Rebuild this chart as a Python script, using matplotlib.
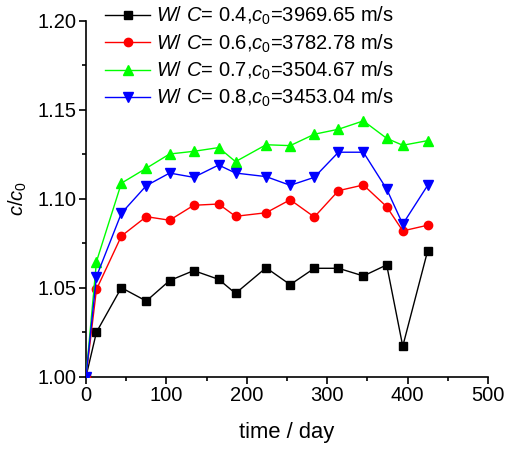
import matplotlib
matplotlib.use("Agg")
import matplotlib.pyplot as plt
from matplotlib.ticker import MultipleLocator

plt.rcParams['font.family'] = ['Liberation Sans', 'DejaVu Sans']
plt.rcParams['mathtext.fontset'] = 'custom'
plt.rcParams['mathtext.rm'] = 'Liberation Sans'
plt.rcParams['mathtext.it'] = 'Liberation Sans:italic'
plt.rcParams['mathtext.bf'] = 'Liberation Sans:bold'

days = [0, 13, 44, 75, 104, 134, 165, 186, 224, 254, 284, 314, 345, 374, 394, 425]

wc04 = [1.000, 1.025, 1.050, 1.0425, 1.054, 1.0596, 1.0547, 1.0468, 1.0612, 1.0517,
        1.0609, 1.0609, 1.0566, 1.0628, 1.0171, 1.0708]
wc06 = [1.000, 1.049, 1.079, 1.0899, 1.0879, 1.0963, 1.097, 1.0901, 1.0921, 1.0994,
        1.0897, 1.1045, 1.1077, 1.0955, 1.0819, 1.0851]
wc07 = [1.000, 1.0646, 1.1087, 1.1171, 1.1251, 1.1266, 1.1287, 1.1208, 1.1303, 1.1298,
        1.1362, 1.139, 1.1437, 1.1339, 1.130, 1.1326]
wc08 = [1.000, 1.0562, 1.0918, 1.1073, 1.1144, 1.112, 1.1189, 1.1144, 1.1124, 1.1075,
        1.112, 1.1261, 1.1261, 1.1054, 1.0857, 1.1075]

labels = [r"$\it{W}$/ $\it{C}$= 0.4,$\it{c}_0$=3969.65 m/s",
          r"$\it{W}$/ $\it{C}$= 0.6,$\it{c}_0$=3782.78 m/s",
          r"$\it{W}$/ $\it{C}$= 0.7,$\it{c}_0$=3504.67 m/s",
          r"$\it{W}$/ $\it{C}$= 0.8,$\it{c}_0$=3453.04 m/s"]

fig = plt.figure(figsize=(5.07, 4.49), dpi=100)
ax = fig.add_axes([0.1696, 0.161, 0.7929, 0.793])

styles = [('black', 's', 5.5), ('red', 'o', 6), ('#00ff00', '^', 6.5), ('blue', 'v', 6.5)]
for ys, (col, mk, ms), lab in zip([wc04, wc06, wc07, wc08], styles, labels):
    ax.plot(days, ys, color=col, marker=mk, markersize=ms, linewidth=1.0,
            label=lab, zorder=3)

ax.set_xlim(0, 500)
ax.set_ylim(1.00, 1.20)
ax.xaxis.set_major_locator(MultipleLocator(100))
ax.xaxis.set_minor_locator(MultipleLocator(50))
ax.yaxis.set_major_locator(MultipleLocator(0.05))
ax.yaxis.set_minor_locator(MultipleLocator(0.025))
ax.yaxis.set_major_formatter(plt.FormatStrFormatter('%.2f'))

for side in ('top', 'right'):
    ax.spines[side].set_visible(False)
for side in ('left', 'bottom'):
    ax.spines[side].set_linewidth(1.2)

ax.tick_params(which='major', direction='out', length=5, width=1.2, labelsize=14.5, pad=2)
ax.tick_params(which='minor', direction='out', length=3, width=1.2)

ax.set_xlabel('time / day', fontsize=15.8, labelpad=12)
ax.set_ylabel(r'$\it{c}$/$\it{c}_0$', fontsize=14.5, labelpad=6)

leg = fig.legend(loc='upper left', bbox_to_anchor=(0.180, 1.02), frameon=False,
                 fontsize=14.5, handlelength=2.2, handletextpad=0.3,
                 labelspacing=0.25, borderpad=0.2)

fig.savefig('out.png', dpi=100)
